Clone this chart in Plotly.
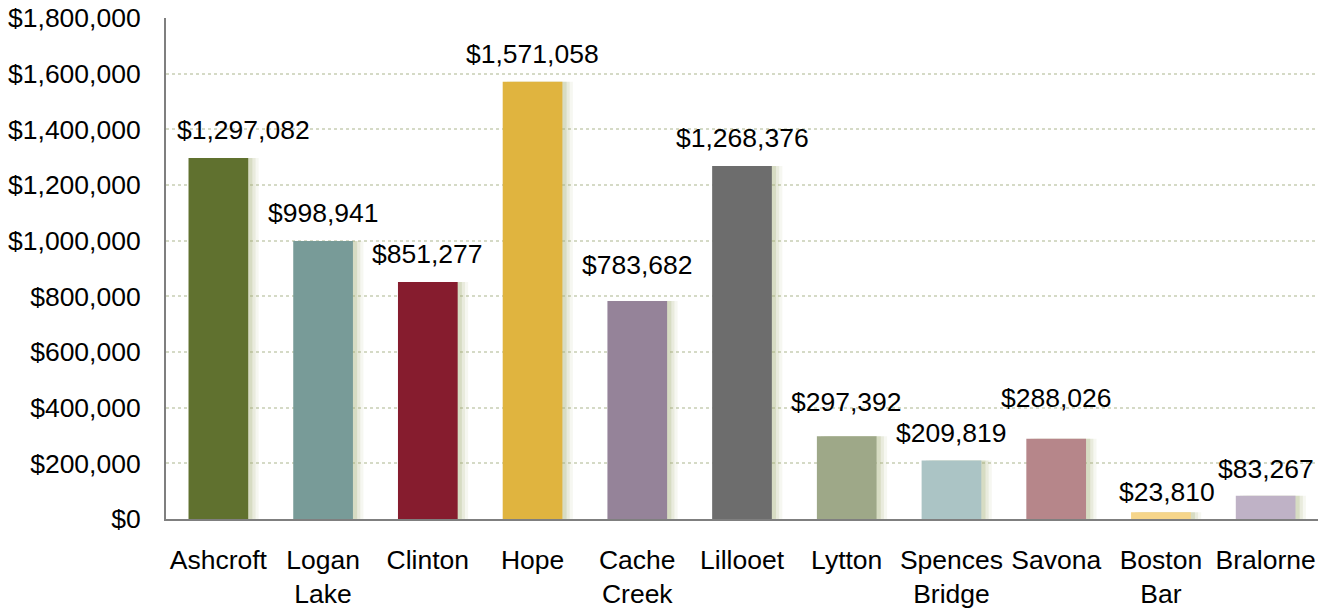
import plotly.graph_objects as go

categories = ["Ashcroft", "Logan<br>Lake", "Clinton", "Hope", "Cache<br>Creek", "Lillooet",
              "Lytton", "Spences<br>Bridge", "Savona", "Boston<br>Bar", "Bralorne"]
values = [1297082, 998941, 851277, 1571058, 783682, 1268376,
          297392, 209819, 288026, 23810, 83267]
y_ticks = [0, 200000, 400000, 600000, 800000, 1000000, 1200000, 1400000, 1600000, 1800000]

# styles (kept separate from data)
colors = ["#60712F", "#789B98", "#861C2E", "#E0B43F", "#958399", "#6D6D6D",
          "#9EA888", "#ABC4C5", "#B6868A", "#F6D58A", "#BFB2C6"]
label_xshift = [25, 0, 0, 0, 0, 0, 0, 0, 0, 6, 0]
label_yshift = [11, 11, 11, 11, 19, 11, 17, 11, 24, 3, 10]

FONT = "Liberation Sans, Arial, Helvetica, sans-serif"
FS = 26.5
BW = 0.57

fig = go.Figure()
idx = list(range(len(categories)))

# soft shadows
for shift, alpha in [(0.1, 0.10), (0.07, 0.16), (0.04, 0.25)]:
    fig.add_trace(go.Bar(
        x=idx, y=values, width=BW, offset=-BW / 2 + shift,
        marker=dict(color=f"rgba(165,175,120,{alpha})", line=dict(width=0)),
        hoverinfo="skip", showlegend=False,
    ))

fig.add_trace(go.Bar(
    x=idx, y=values, width=BW,
    marker=dict(color=colors, line=dict(width=0)),
    showlegend=False,
))

for i, v in enumerate(values):
    fig.add_annotation(
        x=i, y=v, text=f"${v:,}", showarrow=False,
        xanchor="center", yanchor="bottom",
        xshift=label_xshift[i], yshift=label_yshift[i],
        font=dict(family=FONT, size=FS, color="#000000"),
    )

fig.update_layout(
    width=1328, height=609,
    margin=dict(l=166, r=10, t=18, b=90, autoexpand=False),
    paper_bgcolor="white", plot_bgcolor="white",
    barmode="overlay",
    font=dict(family=FONT, size=FS, color="#000000"),
)

fig.update_xaxes(
    tickmode="array", tickvals=idx, ticktext=categories,
    range=[-0.5, len(categories) - 0.5],
    showline=True, linecolor="#7F7F7F", linewidth=2,
    showgrid=False, zeroline=False, automargin=False,
    ticks="", ticklabelstandoff=16,
    tickfont=dict(family=FONT, size=FS, color="#000000"),
)

fig.update_yaxes(
    range=[0, 1800000],
    tickmode="array", tickvals=y_ticks,
    ticktext=[f"${t:,}" for t in y_ticks],
    showline=True, linecolor="#7F7F7F", linewidth=2,
    showgrid=True, gridcolor="#D5DAC6", griddash="dot", gridwidth=2,
    zeroline=False, automargin=False,
    ticks="", ticklabelstandoff=18,
    tickfont=dict(family=FONT, size=FS, color="#000000"),
)

fig.write_html(
    "out.html",
    config={"displayModeBar": False},
    post_script="document.body.style.margin='0';document.body.style.overflow='hidden';",
)
